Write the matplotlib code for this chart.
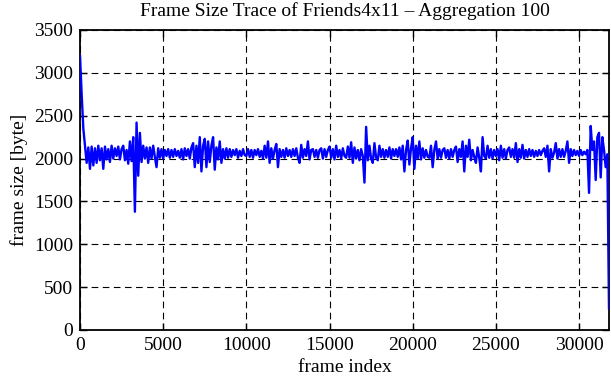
import numpy as np
import matplotlib
matplotlib.use("Agg")
import matplotlib.pyplot as plt

# --- Data: frame size per 100-frame aggregation step ---
step = 100
frame_size = [
    3200, 2750, 2350, 2150, 1950, 2130, 1880, 2140, 1920, 2120,
    1950, 2150, 1980, 2120, 1880, 2140, 1990, 2110, 1960, 2150,
    2000, 2120, 2030, 2140, 1990, 2110, 2150, 1980, 2100, 1940,
    2200, 1970, 2250, 1380, 2420, 1800, 2300, 1960, 2150, 2000,
    2130, 1950, 2130, 2000, 2150, 2020, 1900, 2120, 2010, 2110,
    2000, 2100, 2030, 2110, 2010, 2100, 2020, 2110, 2030, 2090,
    2010, 2110, 1990, 2120, 2030, 2110, 2000, 2130, 2180, 1900,
    2150, 1950, 2250, 1850, 2150, 2230, 1900, 2200, 1960, 2150,
    2250, 1870, 2130, 1990, 2200, 1950, 2110, 2000, 2120, 2010,
    2110, 2020, 2100, 2040, 2110, 2010, 2090, 2030, 2110, 2040,
    2030, 2110, 2020, 2100, 2010, 2100, 2040, 2110, 2020, 2090,
    2000, 2150, 2010, 2200, 1950, 2120, 2000, 2100, 2170, 1900,
    2110, 2020, 2100, 2010, 2120, 2030, 2100, 2020, 2110, 2030,
    2120, 2010, 1950, 2160, 2010, 2110, 2030, 2200, 1990, 2100,
    2110, 2020, 2100, 2010, 2100, 2120, 2000, 2110, 2020, 2100,
    2140, 2010, 2110, 1990, 2150, 2020, 2100, 2000, 2120, 2030,
    2010, 2140, 2010, 2190, 1950, 2130, 2000, 2100, 1980, 2110,
    2030, 1720, 2370, 1980, 2150, 2000, 1950, 2180, 2010, 1980,
    2150, 2020, 2110, 2010, 2100, 2020, 2130, 2000, 2110, 2030,
    2110, 2020, 2130, 1990, 2150, 1850, 2100, 2210, 1930, 2120,
    2250, 1880, 2150, 2000, 2200, 1990, 2120, 2010, 2100, 2020,
    2010, 2150, 1900, 2100, 2200, 2000, 2110, 2010, 2100, 2120,
    2010, 2100, 2000, 2110, 2020, 2100, 2140, 1960, 2110, 2020,
    2200, 1850, 2150, 2020, 2220, 1980, 2100, 2020, 1950, 2130,
    2010, 1850, 2250, 2030, 2000, 2150, 2010, 2110, 2000, 2100,
    2030, 2110, 1980, 2150, 2010, 2110, 2000, 2100, 2130, 2020,
    2110, 2010, 2180, 1960, 2110, 2010, 2160, 2000, 2100, 2020,
    2110, 2030, 2100, 2020, 2090, 2030, 2100, 2040, 2090, 2120,
    2020, 2150, 1850, 2110, 2010, 2070, 2180, 2000, 2110, 2020,
    2110, 2020, 2090, 2200, 1950, 2110, 2030, 2100, 2040, 2090,
    2030, 2100, 2040, 2080, 2050, 2100, 1600, 2380, 2100, 2200,
    1750, 2250, 2300, 1780, 2250, 2100, 1900, 2050, 250,
]
frame_index = np.arange(len(frame_size)) * step

x_ticks = [0, 5000, 10000, 15000, 20000, 25000, 30000]
y_ticks = [0, 500, 1000, 1500, 2000, 2500, 3000, 3500]

plt.rcParams['font.family'] = ['Liberation Serif', 'DejaVu Serif']
plt.rcParams['font.size'] = 14

fig = plt.figure(figsize=(6.11, 3.80), dpi=100)
ax = fig.add_axes([80 / 611, 50 / 380, 529 / 611, 300 / 380])

ax.plot(frame_index, frame_size, color='#0000ff', linewidth=1.7, zorder=3)

ax.set_xlim(0, frame_index[-1])
ax.set_ylim(0, 3500)
ax.set_xticks(x_ticks)
ax.set_yticks(y_ticks)
ax.grid(True, color='black', linestyle=(0, (6, 4)), linewidth=0.8)
ax.tick_params(direction='in', length=5, width=1, top=True, right=True, pad=5)
for s in ax.spines.values():
    s.set_linewidth(1.3)

ax.set_title("Frame Size Trace of Friends4x11 \u2013 Aggregation 100", fontsize=14, pad=10)
ax.set_xlabel("frame index", fontsize=14, labelpad=4)
ax.set_ylabel("frame size [byte]", fontsize=14, labelpad=4)

fig.savefig("out.png", dpi=100)
